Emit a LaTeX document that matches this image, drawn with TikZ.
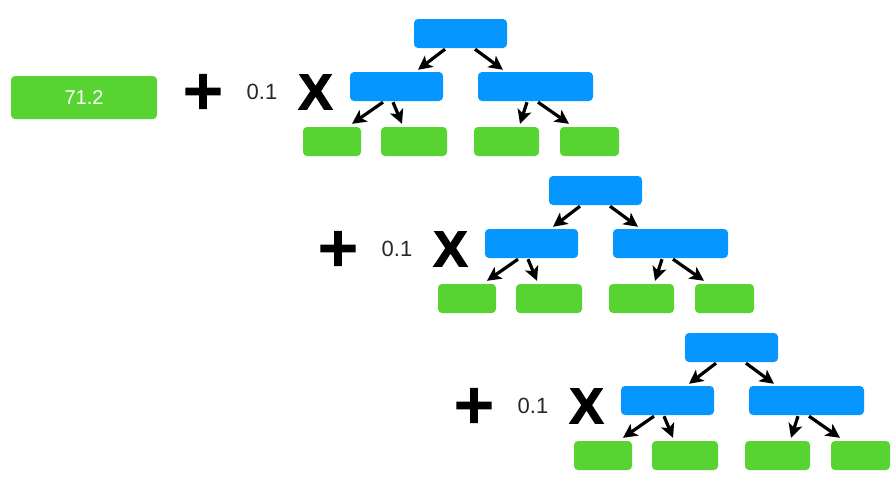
\documentclass[tikz,border=0pt]{standalone}
\usepackage{fontspec}
\setmainfont{Liberation Sans}
\newfontfamily\plusfont[FakeBold=3]{DejaVu Sans Bold}
\newfontfamily\timesfont[FakeBold=2.5]{Liberation Sans Bold}
\usetikzlibrary{arrows.meta}
\definecolor{treeblue}{RGB}{5,150,255}
\definecolor{leafgreen}{RGB}{88,212,50}
\definecolor{coefgray}{RGB}{40,40,40}
\begin{document}
\begin{tikzpicture}[x=1pt,y=-1pt,
  box/.style={rounded corners=4pt, inner sep=0pt, minimum height=29pt},
  innerbox/.style={box, fill=treeblue},
  leafbox/.style={box, fill=leafgreen},
  arr/.style={line width=3.2pt, -{Stealth[length=14pt,width=14pt,inset=3.5pt]}},
  plussym/.style={inner sep=0pt, font=\plusfont\fontsize{54}{54}\selectfont},
  coef/.style={inner sep=0pt, text=coefgray, font=\fontsize{22}{22}\selectfont},
  timessym/.style={inner sep=0pt, xscale=1.02, font=\timesfont\fontsize{50}{50}\selectfont}
]
\fill[white] (0,0) rectangle (895,482);
\useasboundingbox (0,0) rectangle (895,482);

\node[leafbox, minimum width=146pt, minimum height=43pt, text=white,
      font=\fontsize{20}{20}\selectfont] (start) at (84,97.5) {71.2};

\foreach \k/\dx/\dy in {1/0/0,2/135/157,3/271/314}{
\begin{scope}[shift={(\dx,\dy)}]
  \node[plussym] (plus\k) at (203,91.5) {+};
  \node[coef] (coef\k) at (262,92) {0.1};
  \node[timessym] (times\k) at (315.5,92) {X};
  \node[innerbox, minimum width=93pt] (r\k) at (460.5,33.5) {};
  \node[innerbox, minimum width=93pt] (ma\k) at (396.5,86.5) {};
  \node[innerbox, minimum width=115pt] (mb\k) at (535.5,86.5) {};
  \node[leafbox, minimum width=58pt] (la\k) at (332,141.5) {};
  \node[leafbox, minimum width=66pt] (lb\k) at (414,141.5) {};
  \node[leafbox, minimum width=65pt] (lc\k) at (506.5,141.5) {};
  \node[leafbox, minimum width=59pt] (ld\k) at (589.5,141.5) {};
  \draw[arr] ([xshift=-15.5pt,yshift=-1pt]r\k.south) -- ([xshift=21.5pt,yshift=2pt]ma\k.north);
  \draw[arr] ([xshift=14.5pt,yshift=-1pt]r\k.south) -- ([xshift=-32.5pt,yshift=2pt]mb\k.north);
  \draw[arr] ([xshift=-13.5pt,yshift=-1pt]ma\k.south) -- ([xshift=20pt,yshift=3pt]la\k.north);
  \draw[arr] ([xshift=-3.5pt,yshift=-1pt]ma\k.south) -- ([xshift=-12pt,yshift=3pt]lb\k.north);
  \draw[arr] ([xshift=-8.5pt,yshift=-1pt]mb\k.south) -- ([xshift=13.5pt,yshift=3pt]lc\k.north);
  \draw[arr] ([xshift=2.5pt,yshift=-1pt]mb\k.south) -- ([xshift=-20.5pt,yshift=3pt]ld\k.north);
\end{scope}}
\end{tikzpicture}
\end{document}
